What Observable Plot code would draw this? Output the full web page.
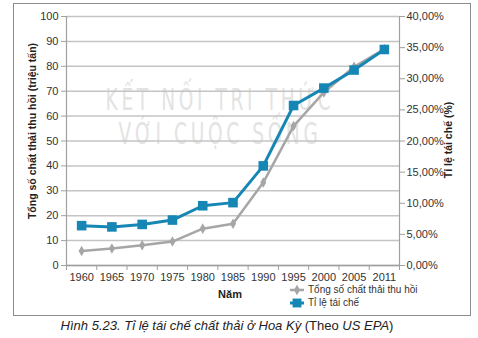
<!DOCTYPE html>
<html><head><meta charset="utf-8">
<script src="https://cdn.jsdelivr.net/npm/d3@7"></script>
<script src="https://cdn.jsdelivr.net/npm/@observablehq/plot@0.6"></script>
<style>
body{margin:0;background:#fff;font-family:"Liberation Sans",Arial,sans-serif;}
#wrap{position:relative;width:478px;height:338px;overflow:hidden;}
#border{position:absolute;left:13px;top:3px;width:456px;height:311px;border:1px solid #8c8c8c;pointer-events:none;}
#wm{position:absolute;left:0;width:440px;text-align:center;font-family:"DejaVu Sans",sans-serif;color:#e3e3e3;font-size:31px;letter-spacing:6px;line-height:34px;top:82px;transform:scaleX(0.6);transform-origin:220px 0;}
#chart{position:absolute;left:0;top:0;}
#legend{position:absolute;left:289px;top:283px;font-size:10px;color:#333;line-height:13px;}
#legend div{display:flex;align-items:center;height:13px;}
#legend svg{margin-right:3px;}
#caption{position:absolute;left:0;top:318px;width:454px;text-align:center;font-size:13px;color:#222;}
</style>
</head><body>
<div id="wrap">
  <div id="wm">KẾT NỐI TRI THỨC<br>VỚI CUỘC SỐNG</div>
  <div id="chart"></div>
  <div id="legend"></div>
  <div id="border"></div>
  <div id="caption"><i>Hình 5.23. Tỉ lệ tái chế chất thải ở Hoa Kỳ</i> (Theo <i>US EPA</i>)</div>
</div>
<script>
const years = ["1960","1965","1970","1975","1980","1985","1990","1995","2000","2005","2011"];
const recovered = [5.8, 6.8, 8.1, 9.6, 14.8, 16.8, 33.3, 56.0, 69.5, 79.8, 86.9];
const rate = [6.4, 6.2, 6.6, 7.3, 9.6, 10.1, 16.0, 25.7, 28.5, 31.4, 34.7];
const leftTicks = [0,10,20,30,40,50,60,70,80,90,100];
const rightTicks = [0,5,10,15,20,25,30,35,40];
const seriesNames = ["Tổng số chất thải thu hồi", "Tỉ lệ tái chế"];
const leftLabel = "Tổng số chất thải thu hồi (triệu tấn)";
const rightLabel = "Tỉ lệ tái chế (%)";
const xLabel = "Năm";

const grey = "#a6a6a6", blue = "#1686b5", gridC = "#c4c4c4", axisC = "#a0a0a0";
const idx = years.map((_, i) => i);
const rightMax = 40, leftMax = 100, k = leftMax / rightMax;

const recData = recovered.map((v, i) => ({i, v}));
const rateData = rate.map((v, i) => ({i, v: v * k}));
const bounds = d3.range(-0.5, years.length, 1);

const chart = Plot.plot({
  width: 478, height: 316,
  marginLeft: 66, marginRight: 79, marginTop: 16, marginBottom: 51,
  style: {background: "transparent", fontFamily: "'Liberation Sans', Arial, sans-serif"},
  x: {type: "linear", domain: [-0.5, years.length - 0.5]},
  y: {domain: [0, leftMax]},
  marks: [
    Plot.gridY(leftTicks, {stroke: gridC, strokeOpacity: 1, strokeWidth: 1.5}),
    Plot.ruleX([bounds[0], bounds[bounds.length - 1]], {stroke: axisC, strokeWidth: 1.2}),
    Plot.ruleY([0], {stroke: axisC, strokeWidth: 1.5}),
    Plot.axisY(leftTicks, {anchor: "left", tickSize: 5, tickPadding: 3, fontSize: 11, stroke: axisC, fill: "#333", label: null}),
    Plot.axisY(rightTicks.map(v => v * k), {anchor: "right", tickSize: 5, tickPadding: 2, fontSize: 11, stroke: axisC, fill: "#333", label: null,
      tickFormat: v => (v / k).toFixed(2).replace(".", ",") + "%"}),
    Plot.axisX(bounds, {anchor: "bottom", tickSize: 5, stroke: axisC, tickFormat: () => "", label: null}),
    Plot.axisX(idx, {anchor: "bottom", tickSize: 0, tickPadding: 8, fontSize: 11, fill: "#333", tickFormat: i => years[i], label: null}),
    Plot.line(recData, {x: "i", y: "v", stroke: grey, strokeWidth: 2.5}),
    Plot.dot(recData, {x: "i", y: "v", symbol: "diamond", r: 3.2, fill: grey}),
    Plot.line(rateData, {x: "i", y: "v", stroke: blue, strokeWidth: 3}),
    Plot.dot(rateData, {x: "i", y: "v", symbol: "square", r: 5.4, fill: blue}),
    Plot.text([leftLabel], {frameAnchor: "left", textAnchor: "middle", dx: -34, dy: -10, rotate: -90, fontWeight: "bold", fontSize: 10.5, fill: "#222"}),
    Plot.text([rightLabel], {frameAnchor: "right", textAnchor: "middle", dx: 49, dy: -1, rotate: -90, fontWeight: "bold", fontSize: 10.5, fill: "#222"}),
    Plot.text([xLabel], {frameAnchor: "bottom", dx: -3, dy: 32, fontWeight: "bold", fontSize: 11, fill: "#222"})
  ]
});
document.getElementById("chart").append(chart);

const leg = d3.select("#legend");
const sw = [
  {name: seriesNames[0], color: grey, sym: "diamond", w: 2.5, s: 3.2},
  {name: seriesNames[1], color: blue, sym: "square", w: 3, s: 5}
];
sw.forEach(e => {
  const row = leg.append("div");
  const svg = row.append("svg").attr("width", 16).attr("height", 12);
  svg.append("line").attr("x1", 1).attr("x2", 15).attr("y1", 6).attr("y2", 6).attr("stroke", e.color).attr("stroke-width", e.w);
  svg.append("path").attr("transform", "translate(8,6)")
    .attr("d", d3.symbol(e.sym === "square" ? d3.symbolSquare : d3.symbolDiamond, Math.PI * e.s * e.s)())
    .attr("fill", e.color);
  row.append("span").text(e.name);
});
</script>
</body></html>
